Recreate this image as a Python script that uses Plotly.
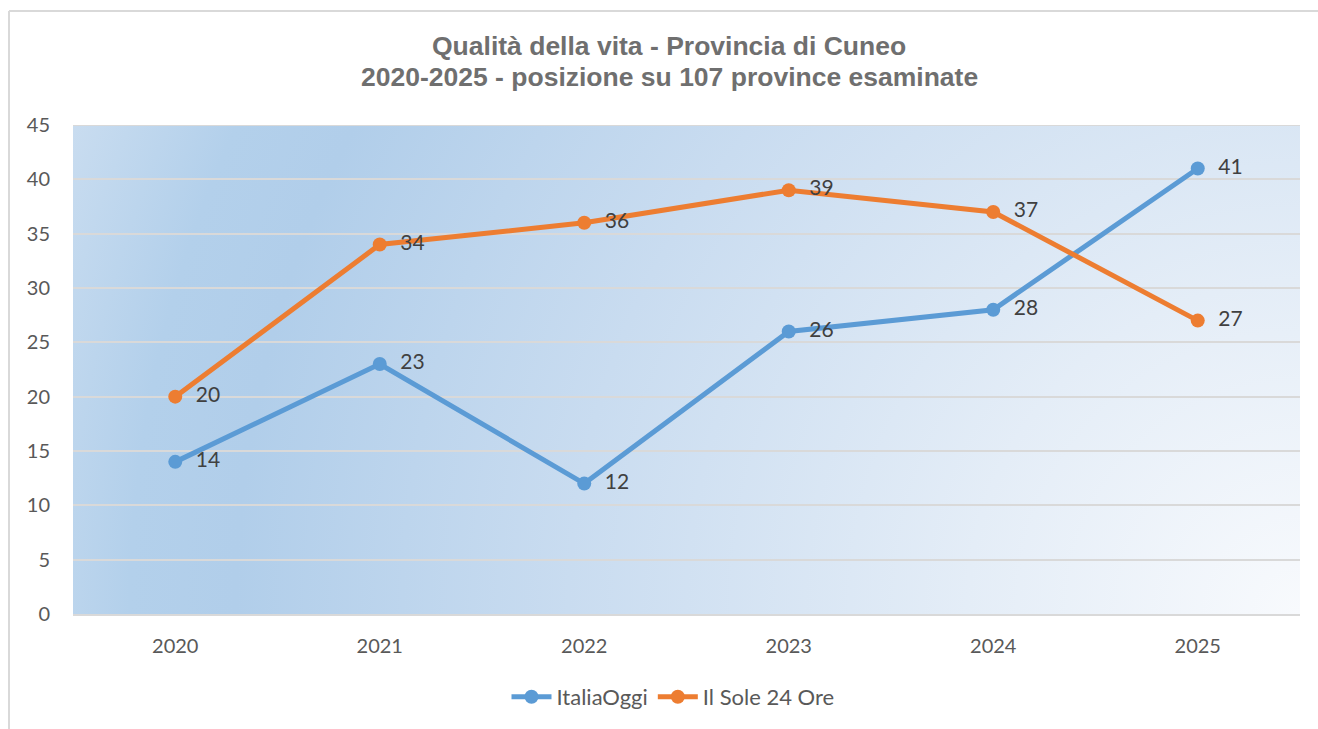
import base64
import plotly.graph_objects as go

years = ["2020", "2021", "2022", "2023", "2024", "2025"]
italia_oggi = [14, 23, 12, 26, 28, 41]
sole_24_ore = [20, 34, 36, 39, 37, 27]
y_ticks = [0, 5, 10, 15, 20, 25, 30, 35, 40, 45]
title_lines = ["Qualità della vita - Provincia di Cuneo",
               "2020-2025 - posizione su 107 province esaminate"]

W, H = 1318, 729
L, R, T, B = 73, 18, 125, 115
PW, PH = W - L - R, H - T - B

svg = f'''<svg xmlns="http://www.w3.org/2000/svg" width="{PW}" height="{PH}" viewBox="0 0 {PW} {PH}" preserveAspectRatio="none">
<defs><radialGradient id="g" gradientUnits="userSpaceOnUse" cx="{PW}" cy="{PH}" r="1330">
<stop offset="0" stop-color="#F8FAFD"/>
<stop offset="0.25" stop-color="#E4EDF7"/>
<stop offset="0.55" stop-color="#C9DCF0"/>
<stop offset="0.8" stop-color="#B1CEEA"/>
<stop offset="0.88" stop-color="#B3D0EB"/>
<stop offset="1" stop-color="#CADDF0"/>
</radialGradient></defs>
<rect x="0" y="0" width="{PW}" height="{PH}" fill="url(#g)"/>
</svg>'''
src = "data:image/svg+xml;base64," + base64.b64encode(svg.encode()).decode()

PAD = "\u00a0\u00a0"

fig = go.Figure()
fig.add_trace(go.Scatter(
    x=years, y=italia_oggi, name="ItaliaOggi", mode="lines+markers+text",
    line=dict(color="#5B9BD5", width=5), marker=dict(size=14, color="#5B9BD5"),
    text=[PAD + str(v) for v in italia_oggi], textposition="middle right",
    textfont=dict(family="Lato", size=21, color="#404040"),
))
fig.add_trace(go.Scatter(
    x=years, y=sole_24_ore, name="Il Sole 24 Ore", mode="lines+markers+text",
    line=dict(color="#ED7D31", width=5), marker=dict(size=14, color="#ED7D31"),
    text=[PAD + str(v) for v in sole_24_ore], textposition="middle right",
    textfont=dict(family="Lato", size=21, color="#404040"),
))

title_font = dict(family="Liberation Sans", size=26.5, color="#6F6F6F", weight="bold")
annotations = [
    dict(text=title_lines[0], xref="paper", yref="paper", x=(669 - L) / PW, xanchor="center",
         y=1 + (T - 46) / PH, yanchor="middle", showarrow=False, font=title_font),
    dict(text=title_lines[1], xref="paper", yref="paper", x=(669 - L) / PW, xanchor="center",
         y=1 + (T - 77) / PH, yanchor="middle", showarrow=False, font=title_font),
]

fig.update_layout(
    width=W, height=H,
    margin=dict(l=L, r=R, t=T, b=B),
    paper_bgcolor="white",
    plot_bgcolor="rgba(0,0,0,0)",
    annotations=annotations,
    xaxis=dict(
        type="category", range=[-0.5, 5.5], showgrid=False, zeroline=False,
        showline=True, linecolor="#D9D9D9", linewidth=2,
        tickfont=dict(family="Lato", size=20, color="#595959"),
        ticks="", ticklabelstandoff=13,
    ),
    yaxis=dict(
        range=[0, 45], tickvals=y_ticks, showgrid=True, gridcolor="#D9D9D9", gridwidth=2,
        zeroline=False, showline=False,
        tickfont=dict(family="Lato", size=20, color="#595959"),
        ticks="", ticklabelstandoff=22,
    ),
    showlegend=True,
    legend=dict(
        orientation="h", x=673 / W, xanchor="center", y=1 - 697 / H, yanchor="middle",
        xref="container", yref="container",
        font=dict(family="Lato", size=22, color="#595959"),
        itemwidth=40, tracegroupgap=0,
    ),
    images=[dict(
        source=src, xref="paper", yref="paper", x=0, y=1, sizex=1, sizey=1,
        xanchor="left", yanchor="top", sizing="stretch", layer="below",
    )],
    shapes=[
        dict(type="line", xref="paper", yref="paper",
             x0=(9 - L) / PW, x1=(1340 - L) / PW,
             y0=1 + (T - 11) / PH, y1=1 + (T - 11) / PH,
             line=dict(color="#D9D9D9", width=2), layer="below"),
        dict(type="line", xref="paper", yref="paper",
             x0=(9 - L) / PW, x1=(9 - L) / PW,
             y0=1 + (T - 11) / PH, y1=-(750 - 614) / PH,
             line=dict(color="#D9D9D9", width=2), layer="below"),
        dict(type="line", xref="paper", yref="y", x0=0, x1=1, y0=45, y1=45,
             line=dict(color="#D9D9D9", width=2), layer="below"),
    ],
)

fig.write_html(
    "out.html",
    config={"displayModeBar": False},
    post_script="document.body.style.margin='0';document.body.style.overflow='hidden';",
)
